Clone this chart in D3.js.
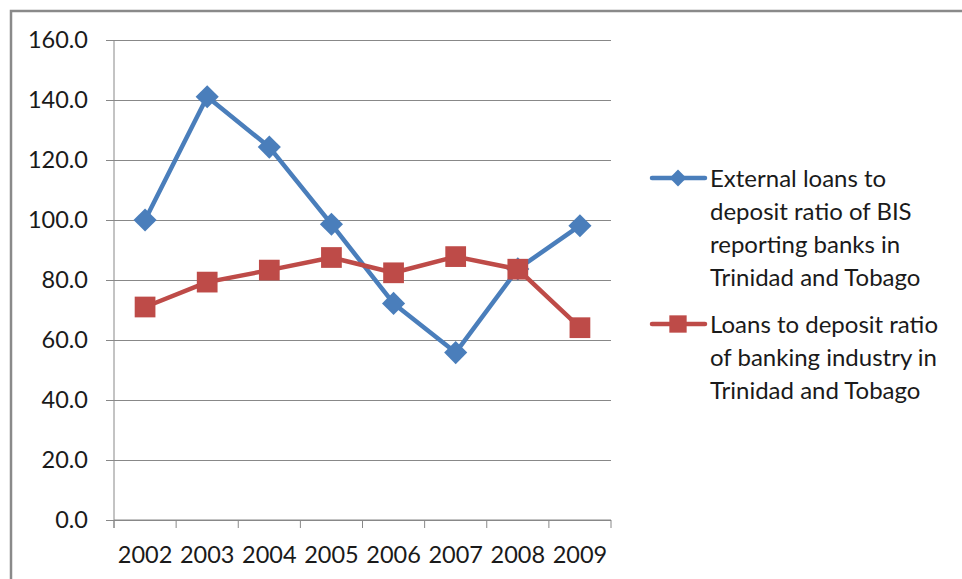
<!DOCTYPE html>
<html>
<head>
<meta charset="utf-8">
<script src="https://cdn.jsdelivr.net/npm/d3@7/dist/d3.min.js"></script>
<style>
  html, body { margin: 0; padding: 0; background: #fff; }
  svg { display: block; }
  text { font-family: Lato, "Open Sans", "Liberation Sans", sans-serif; fill: #1a1a1a; }
</style>
</head>
<body>
<svg id="chart" width="962" height="579"></svg>
<script>
// Years on the category axis
const years = ["2002", "2003", "2004", "2005", "2006", "2007", "2008", "2009"];
// External loans to deposit ratio of BIS reporting banks (%)
const externalRatio = [100.0, 141.1, 124.3, 98.6, 72.2, 55.8, 83.7, 98.1];
// Loans to deposit ratio of the domestic banking industry (%)
const domesticRatio = [71.0, 79.3, 83.3, 87.5, 82.4, 87.8, 83.6, 64.1];
// Value-axis ticks
const yTicks = [0, 20, 40, 60, 80, 100, 120, 140, 160];
// Legend entries
const legendLines = [
  ["External loans to", "deposit ratio of BIS", "reporting banks in", "Trinidad and Tobago"],
  ["Loans to deposit ratio", "of banking industry in", "Trinidad and Tobago"]
];

const svg = d3.select("#chart");
const plot = { left: 114, right: 611, top: 40, bottom: 520 };
const blue = "#4A7EBB", red = "#BE4B48", grid = "#888888";
const fontSize = 23.5;

// Outer frame: top and left edges
svg.append("path")
  .attr("d", `M11,579 V11 H962`)
  .attr("fill", "none").attr("stroke", "#8a8a8a").attr("stroke-width", 2.5);

const x = d3.scaleBand().domain(years).range([plot.left, plot.right]);
const y = d3.scaleLinear().domain([0, 160]).range([plot.bottom, plot.top]);

// Horizontal gridlines + value axis
const yAxis = d3.axisLeft(y).tickValues(yTicks).tickFormat(d3.format(".1f"))
  .tickSize(-(plot.right - plot.left)).tickPadding(26);
const gy = svg.append("g").attr("transform", `translate(${plot.left},0)`).call(yAxis);
gy.select(".domain").remove();
gy.selectAll(".tick line").attr("stroke", grid).attr("stroke-width", 1).attr("x1", -8);
gy.selectAll(".tick text").attr("font-size", fontSize).attr("fill", "#1a1a1a").attr("font-family", null);

// Vertical axis line
svg.append("line").attr("x1", plot.left).attr("x2", plot.left)
  .attr("y1", plot.top).attr("y2", plot.bottom + 8)
  .attr("stroke", grid).attr("stroke-width", 1);

// Category axis with tick marks on band boundaries
const gx = svg.append("g").attr("transform", `translate(0,${plot.bottom})`);
gx.append("line").attr("x1", plot.left).attr("x2", plot.right)
  .attr("stroke", grid).attr("stroke-width", 1);
const bounds = years.map(d => x(d)).concat([x(years[years.length - 1]) + x.bandwidth()]);
gx.selectAll("line.tk").data(bounds).join("line").attr("class", "tk")
  .attr("x1", d => d).attr("x2", d => d).attr("y1", 0).attr("y2", 8)
  .attr("stroke", grid).attr("stroke-width", 1);
gx.selectAll("text").data(years).join("text")
  .attr("x", d => x(d) + x.bandwidth() / 2).attr("y", 43)
  .attr("text-anchor", "middle").attr("font-size", fontSize).text(d => d);

const cx = d => x(d) + x.bandwidth() / 2;
const line = d3.line().x(d => cx(d[0])).y(d => y(d[1]));

function drawSeries(values, color, symbol, size) {
  const pts = years.map((yr, i) => [yr, values[i]]);
  svg.append("path").datum(pts).attr("d", line)
    .attr("fill", "none").attr("stroke", color).attr("stroke-width", 4.5)
    .attr("stroke-linejoin", "round").attr("stroke-linecap", "round");
  svg.selectAll(null).data(pts).join("path")
    .attr("transform", d => `translate(${cx(d[0])},${y(d[1])})`)
    .attr("d", d3.symbol().type(symbol).size(size))
    .attr("fill", color);
}
// External series first, domestic series drawn on top
drawSeries(externalRatio, blue, d3.symbolDiamond2, 340);
drawSeries(domesticRatio, red, d3.symbolSquare, 430);

// Legend
const legend = svg.append("g");
const legendTop = [178, 324];
const colors = [blue, red];
const symbols = [[d3.symbolDiamond2, 180], [d3.symbolSquare, 300]];
legendLines.forEach((lines, i) => {
  const ly = legendTop[i];
  legend.append("line").attr("x1", 652).attr("x2", 705).attr("y1", ly).attr("y2", ly)
    .attr("stroke", colors[i]).attr("stroke-width", 4.5).attr("stroke-linecap", "round");
  legend.append("path").attr("transform", `translate(678,${ly})`)
    .attr("d", d3.symbol().type(symbols[i][0]).size(symbols[i][1])).attr("fill", colors[i]);
  lines.forEach((t, j) => {
    legend.append("text").attr("x", 710).attr("y", ly + 8.5 + j * 33.3)
      .attr("font-size", 24).text(t);
  });
});
</script>
</body>
</html>
